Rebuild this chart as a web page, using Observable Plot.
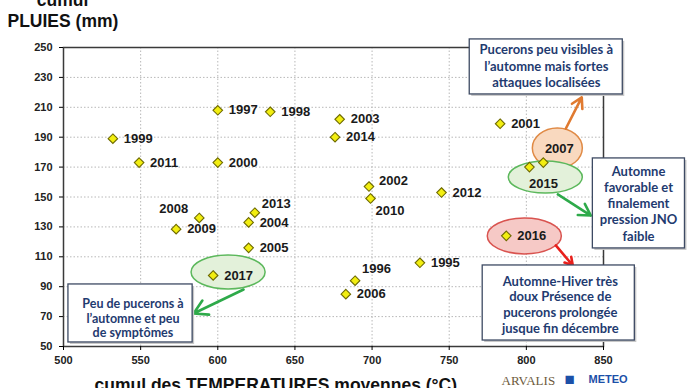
<!DOCTYPE html>
<html>
<head>
<meta charset="utf-8">
<script src="https://cdn.jsdelivr.net/npm/d3@7"></script>
<script src="https://cdn.jsdelivr.net/npm/@observablehq/plot@0.6"></script>
<style>
  html, body { margin: 0; padding: 0; background: #fff; }
  #chart { width: 690px; height: 388px; overflow: hidden; }
</style>
</head>
<body>
<div id="chart"></div>
<script>
// ---- data ----
const years = [1995, 1996, 1997, 1998, 1999, 2000, 2001, 2002, 2003, 2004, 2005, 2006,
               2007, 2008, 2009, 2010, 2011, 2012, 2013, 2014, 2015, 2016, 2017];
const temperatures = [731, 689, 600, 634, 532, 600, 783, 698, 679, 620, 620, 683,
                      811, 588, 573, 699, 549, 745, 624, 676, 802, 787, 597];
const rainfall = [106, 94, 208, 207, 189, 173, 199, 157, 202, 133, 116, 85,
                  173, 136, 128.5, 149, 173, 153, 139.5, 190, 170, 124, 97.5];
const xTicks = [500, 550, 600, 650, 700, 750, 800, 850];
const yTicks = [50, 70, 90, 110, 130, 150, 170, 190, 210, 230, 250];

// highlighted years (ellipses) in data coordinates
const highlightYears = [2007, 2015, 2016, 2017];
const highlightCenters = [[820.4, 182.4], [812.6, 163], [799, 123.6], [607, 99.5]];
const highlightRadii = [[16.2, 13.4], [24, 10.7], [24, 12], [24, 11.4]];

// annotation notes
const noteTexts = [
  "Pucerons peu visibles à\nl’automne mais fortes\nattaques localisées",
  "Automne\nfavorable et\nfinalement\npression JNO\nfaible",
  "Automne-Hiver très\ndoux Présence de\npucerons prolongée\njusque fin décembre",
  "Peu de pucerons à\nl’automne et peu\nde symptômes"
];
const noteBoxes = [[763.3, 862.5, 218.6, 255.4], [843.1, 902.8, 115.6, 175.8],
                   [771.7, 870.3, 54, 104.2], [503.2, 583.7, 52.7, 91.5]];
const noteAnchors = [[812.9, 238], [872.7, 146], [822, 78.3], [545, 69]];
const noteArrows = [[825.6, 195.8, 835.9, 216.6], [820.4, 151.7, 841.8, 137.6],
                    [819.1, 117.6, 830.1, 104.2], [616.7, 88.1, 584.3, 72.1]];

// ---- styling / placement (not data) ----
const highlightFill = ["#f9d9bf", "#e3f1da", "#f6c9c6", "#e3f1da"];
const highlightStroke = ["#e08a45", "#5cb85c", "#d9534f", "#5cb85c"];
const arrowColor = ["#e07a30", "#2eaa4a", "#e8201c", "#2eaa4a"];
const noteLineHeight = [1.27, 1.25, 1.2, 1.15];
const noteFontSize = [13, 13, 13, 12.5];
const labelPlacement = {
  2008: {dx: -11, dy: -9, anchor: "end"},
  2013: {dx: 7, dy: -9, anchor: "start"},
  2002: {dx: 10, dy: -6, anchor: "start"},
  2010: {dx: 5, dy: 12, anchor: "start"},
  1996: {dx: 7, dy: -12, anchor: "start"},
  2007: {dx: 16, dy: -14, anchor: "middle"},
  2015: {dx: 14, dy: 17, anchor: "middle"}
};

const points = years.map((year, i) => ({year, t: temperatures[i], r: rainfall[i]}));
const notes = noteTexts.map((text, i) => ({
  text, x1: noteBoxes[i][0], x2: noteBoxes[i][1], y1: noteBoxes[i][2], y2: noteBoxes[i][3],
  tx: noteAnchors[i][0], ty: noteAnchors[i][1]
}));
const arrows = noteArrows.map((a, i) => ({x1: a[0], y1: a[1], x2: a[2], y2: a[3], c: arrowColor[i]}));

function labelMark(filterFn, dx, dy, anchor) {
  return Plot.text(points.filter(filterFn), {
    x: "t", y: "r", text: d => String(d.year), dx, dy, textAnchor: anchor,
    fontSize: 13, fontWeight: "bold", fill: "#1a1a1a", fontFamily: "Liberation Sans, Arial, sans-serif"
  });
}

const ellipseMark = (index, scales) => {
  const g = d3.create("svg:g");
  highlightYears.forEach((y, i) => {
    const cx = scales.x(highlightCenters[i][0]);
    const cy = scales.y(highlightCenters[i][1]);
    const rx = Math.abs(scales.x(highlightCenters[i][0] + highlightRadii[i][0]) - cx);
    const ry = Math.abs(scales.y(highlightCenters[i][1] + highlightRadii[i][1]) - cy);
    g.append("ellipse").attr("cx", cx).attr("cy", cy).attr("rx", rx).attr("ry", ry)
      .attr("fill", highlightFill[i]).attr("stroke", highlightStroke[i]).attr("stroke-width", 1.5);
  });
  return g.node();
};

const specialKeys = Object.keys(labelPlacement).map(Number);

const chart = Plot.plot({
  width: 690,
  height: 388,
  marginLeft: 63,
  marginRight: 87,
  marginTop: 47,
  marginBottom: 42,
  style: {background: "#fff", fontFamily: "Liberation Sans, Arial, sans-serif", overflow: "visible"},
  x: {domain: [500, 850]},
  y: {domain: [50, 250]},
  marks: [
    Plot.gridX(xTicks, {stroke: "#b8b8b8", strokeOpacity: 1, strokeDasharray: "1.5,2"}),
    Plot.gridY(yTicks, {stroke: "#b8b8b8", strokeOpacity: 1, strokeDasharray: "1.5,2"}),
    Plot.frame({stroke: "#3a3a3a", strokeWidth: 1.5}),
    Plot.axisX(xTicks, {tickSize: 4, tickPadding: 6, fontSize: 11, fontWeight: "bold", fill: "#222", label: null}),
    Plot.axisY(yTicks, {tickSize: 4, tickPadding: 7, fontSize: 11, fontWeight: "bold", fill: "#222", label: null}),
    ellipseMark,
    Plot.dot(points, {x: "t", y: "r", symbol: "diamond2", r: 4.3, fill: "#f2ee10", stroke: "#6e6a00", strokeWidth: 1.1}),
    labelMark(d => !specialKeys.includes(d.year), 11, 0, "start"),
    ...specialKeys.map(k => labelMark(d => d.year === k, labelPlacement[k].dx, labelPlacement[k].dy, labelPlacement[k].anchor)),
    Plot.arrow(arrows, {x1: "x1", y1: "y1", x2: "x2", y2: "y2", stroke: "c", strokeWidth: 2.6, headLength: 9}),
    Plot.rect(notes, {x1: "x1", x2: "x2", y1: "y1", y2: "y2", fill: "#c8c8c8", dx: 2, dy: 2}),
    Plot.rect(notes, {x1: "x1", x2: "x2", y1: "y1", y2: "y2", fill: "#fff", stroke: "#3d4a63", strokeWidth: 1.3}),
    ...notes.map((n, i) => Plot.text([n], {
      x: "tx", y: "ty", text: "text", lineHeight: noteLineHeight[i], textAnchor: "middle", lineAnchor: "middle",
      fontSize: noteFontSize[i], fontWeight: "bold", fill: "#1f3b70", fontFamily: "Lato, sans-serif"
    })),
    // axis titles
    Plot.text(["cumul"], {frameAnchor: "top-left", dx: -1, dy: -42, textAnchor: "middle", lineAnchor: "bottom",
      fontSize: 17.5, fontWeight: "bold", fill: "#111"}),
    Plot.text(["PLUIES (mm)"], {frameAnchor: "top-left", dx: -56, dy: -21, textAnchor: "start", lineAnchor: "bottom",
      fontSize: 17.5, fontWeight: "bold", fill: "#111"}),
    Plot.text(["cumul des TEMPERATURES moyennes (°C)"], {frameAnchor: "bottom-left", dx: 31, dy: 44, textAnchor: "start", lineAnchor: "bottom",
      fontSize: 17.5, fontWeight: "bold", fill: "#111"}),
    // logos
    Plot.text(["ARVALIS"], {frameAnchor: "bottom-left", dx: 438, dy: 38, textAnchor: "start", lineAnchor: "bottom",
      fontSize: 13, fill: "#6d5a3c", fontFamily: "Liberation Serif, serif"}),
    Plot.text(["■"], {frameAnchor: "bottom-left", dx: 501, dy: 38, textAnchor: "start", lineAnchor: "bottom",
      fontSize: 17, fill: "#1c50a8"}),
    Plot.text(["METEO"], {frameAnchor: "bottom-left", dx: 525, dy: 36, textAnchor: "start", lineAnchor: "bottom",
      fontSize: 11, fontWeight: "bold", fill: "#1c50a8"})
  ]
});
document.getElementById("chart").appendChild(chart);
</script>
</body>
</html>
